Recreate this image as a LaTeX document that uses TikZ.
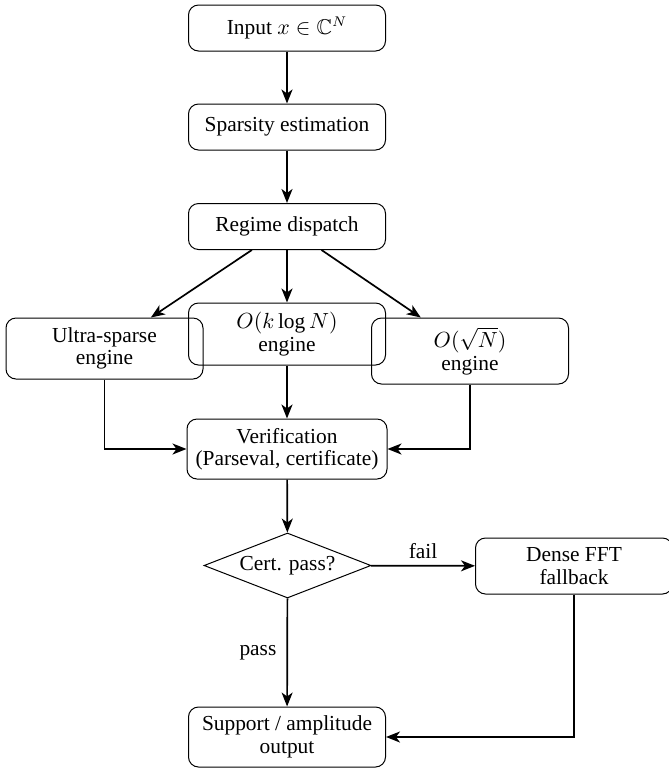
\documentclass[tikz,border=0pt]{standalone}
\usepackage{amssymb}
\usepackage{fontspec}
\setmainfont{Liberation Serif}
\usetikzlibrary{arrows.meta,shapes.geometric}
\begin{document}
\begin{tikzpicture}[x=0.5pt,y=-0.5pt,
  font=\fontsize{10.7}{11.2}\selectfont,
  box/.style={draw,rounded corners=5pt,minimum width=98.5pt,minimum height=23pt,align=center,inner sep=2pt,line width=0.5pt},
  dia/.style={draw,diamond,aspect=2.57,minimum width=83.5pt,minimum height=32.5pt,inner sep=0pt,line width=0.5pt},
  arr/.style={-{Stealth[length=7pt,width=5.5pt,inset=2pt]},line width=0.85pt},
  lbl/.style={inner sep=3pt}]
\useasboundingbox (0,0) rectangle (669,768);
\node[box] (in) at (287,28) {Input $x\in\mathbb{C}^N$};
\node[box] (sp) at (287,127) {Sparsity estimation};
\node[box] (rd) at (287,226.5) {Regime dispatch};
\node[box,minimum height=30.5pt] (ultra) at (104.5,348.5) {Ultra-sparse\\engine};
\node[box,minimum height=31pt] (klog) at (287,334) {$O(k\log N)$\\engine};
\node[box,minimum height=33pt] (sq) at (470,351) {$O(\sqrt{N})$\\engine};
\node[box,minimum width=100pt,minimum height=30pt] (ver) at (287,449) {Verification\\(Parseval, certificate)};
\node[dia] (cp) at (287.5,565.5) {Cert. pass?};
\node[box,minimum height=28pt] (fb) at (574,566) {Dense FFT\\fallback};
\node[box,minimum height=30pt] (out) at (287,737) {Support / amplitude\\output};
\draw[arr] (in) -- (sp);
\draw[arr] (sp) -- (rd);
\draw[arr] (rd) -- (ultra);
\draw[arr] (rd) -- (klog);
\draw[arr] (rd) -- (sq);
\draw[arr] (ultra.south) |- (ver.west);
\draw[arr] (klog) -- (ver);
\draw[arr] (sq.south) |- (ver.east);
\draw[arr] (ver) -- (cp);
\draw[arr] (cp) -- node[lbl,above] {fail} (fb);
\draw[arr] (cp) -- node[lbl,left,xshift=-2pt] {pass} (out);
\draw[arr] (fb.south) |- (out.east);
\end{tikzpicture}
\end{document}
